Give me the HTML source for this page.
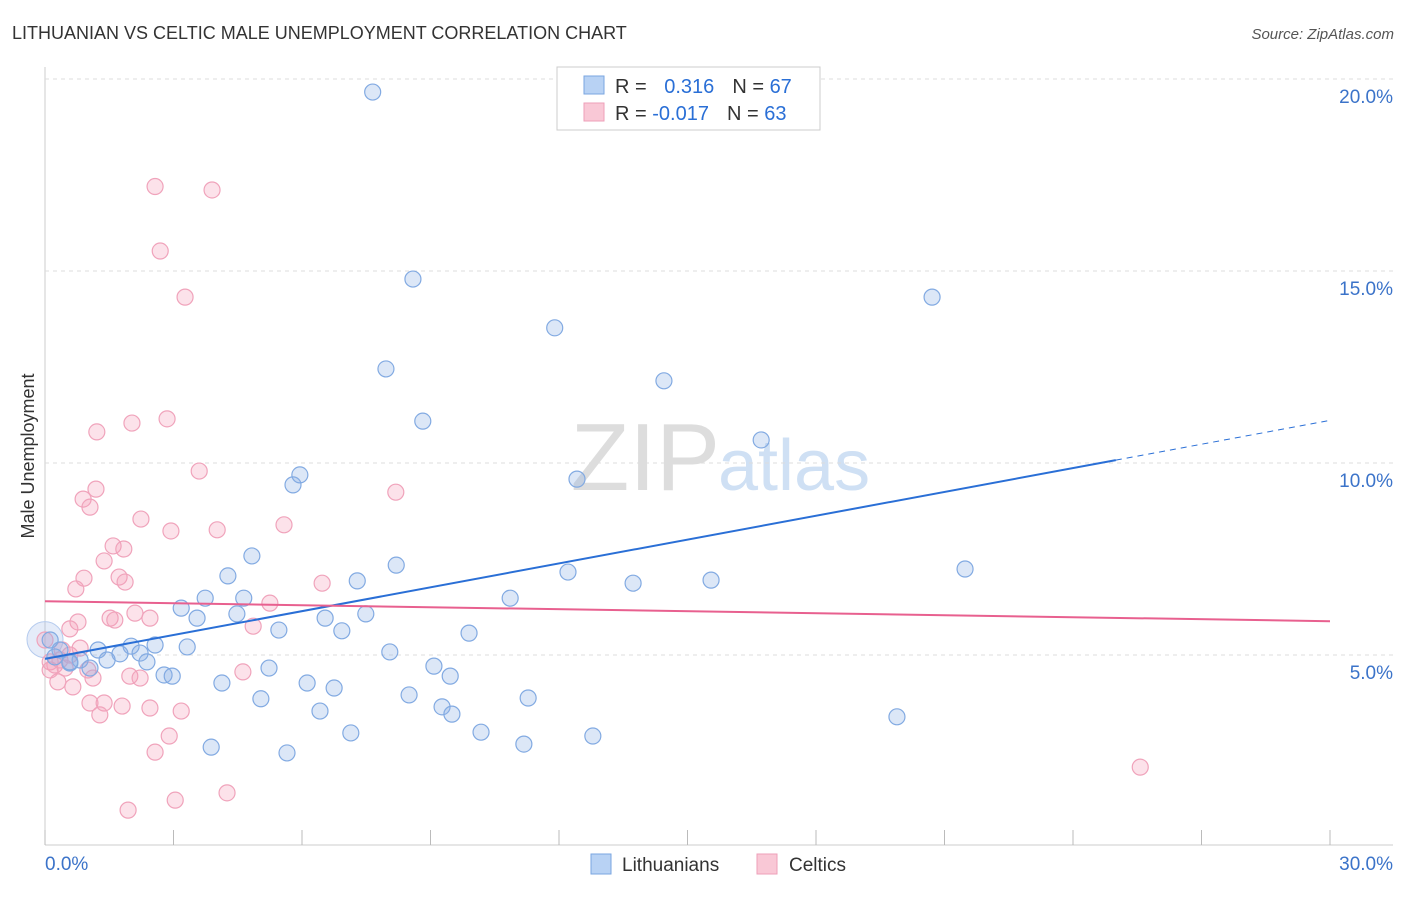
<!DOCTYPE html>
<html><head><meta charset="utf-8"><style>
body{margin:0;background:#fff;font-family:"Liberation Sans",sans-serif}
svg text{font-family:"Liberation Sans",sans-serif}
</style></head><body>
<svg id="c" width="1406" height="892" xmlns="http://www.w3.org/2000/svg">
<text x="12" y="39" font-size="18" fill="#333">LITHUANIAN VS CELTIC MALE UNEMPLOYMENT CORRELATION CHART</text>
<text x="1394" y="39" font-size="15" fill="#555" font-style="italic" text-anchor="end">Source: ZipAtlas.com</text>
<text x="720" y="490" font-size="96" fill="#ddd" text-anchor="end" font-family="Liberation Serif">ZIP</text>
<text x="718" y="490" font-size="72" fill="#cfe0f4">atlas</text>
<text x="34" y="456" font-size="18" fill="#333" transform="rotate(-90 34 456)" text-anchor="middle">Male Unemployment</text>
<g id="grid"></g><g id="pts"></g><g id="lines"></g>
<g>
<rect x="557" y="67" width="263" height="63" fill="#fff" stroke="#ccc"/>
<rect x="584" y="76" width="20" height="18" fill="#b8d2f4" stroke="#7aa6e0"/>
<rect x="584" y="103" width="20" height="18" fill="#f9c8d6" stroke="#ee9fb8"/>
<text x="615" y="93" font-size="20" fill="#333">R = <tspan fill="#2a6fd6" dx="12">0.316</tspan><tspan fill="#333" dx="18">N = </tspan><tspan fill="#2a6fd6">67</tspan></text>
<text x="615" y="120" font-size="20" fill="#333">R = <tspan fill="#2a6fd6">-0.017</tspan><tspan fill="#333" dx="18">N = </tspan><tspan fill="#2a6fd6">63</tspan></text>
</g>
<g>
<rect x="591" y="854" width="20" height="20" fill="#b8d2f4" stroke="#7aa6e0"/>
<text x="622" y="871" font-size="19" fill="#333">Lithuanians</text>
<rect x="757" y="854" width="20" height="20" fill="#f9c8d6" stroke="#ee9fb8"/>
<text x="789" y="871" font-size="19" fill="#333">Celtics</text>
</g>
</svg>
<script>
const yTicks=[5,10,15,20];
const xTickLabels=["0.0%","30.0%"];
const blueX=[7.65,8.59,11.9,7.96,14.45,20.71,8.82,16.72,12.42,5.79,5.95,4.83,4.27,7.29,8.2,12.21,13.73,15.55,21.48,4.64,3.74,3.18,3.55,4.48,6.54,7.49,10.86,5.46,6.93,9.9,2.57,2.01,3.32,1.24,1.75,2.22,2.38,1.45,0.82,0.58,1.05,0.35,0.12,8.05,9.08,9.46,5.23,2.78,2.97,4.13,6.12,6.75,5.04,8.5,11.28,9.27,9.5,6.42,7.14,10.18,11.18,12.79,3.88,5.65,19.89,0.58,0.23];
const blueY=[19.66,14.79,13.52,12.45,12.14,14.32,11.09,10.6,9.58,9.43,9.69,7.58,7.06,6.93,7.34,7.16,6.87,6.95,7.24,6.48,6.48,6.22,5.96,6.07,5.96,6.07,6.48,5.65,5.63,5.57,5.26,5.23,5.21,5.13,5.03,5.05,4.82,4.87,4.87,4.79,4.66,5.13,5.39,5.08,4.71,4.45,4.66,4.48,4.45,4.27,4.27,4.14,3.86,3.96,3.88,3.65,3.46,3.54,2.97,2.99,2.68,2.89,2.6,2.45,3.39,4.82,4.95];
const pinkX=[2.57,3.9,2.69,3.27,1.21,2.03,2.85,3.6,1.19,0.89,1.05,8.19,2.24,5.58,4.02,2.94,1.59,1.84,1.38,1.73,6.47,0.91,1.87,0.72,5.25,2.1,1.52,2.45,1.63,0.77,0.58,4.86,0.4,0.82,0.12,0.23,0.47,1.0,4.62,1.12,1.98,2.22,0.30,0.65,1.05,1.38,1.8,2.45,3.18,1.28,2.9,2.57,1.94,3.04,4.25,25.57,0.12,0.35,0,0.58];
const pinkY=[17.2,17.11,15.52,14.32,10.81,11.04,11.15,9.79,9.32,9.06,8.85,9.24,8.54,8.39,8.26,8.23,7.84,7.76,7.45,7.03,6.87,7.0,6.9,6.72,6.35,6.09,5.96,5.96,5.91,5.86,5.68,5.75,5.13,5.18,4.82,4.74,4.66,4.61,4.56,4.4,4.45,4.4,4.3,4.17,3.75,3.75,3.67,3.62,3.54,3.44,2.89,2.47,0.96,1.22,1.41,2.08,4.61,4.87,5.39,5.0];
const X0=45,X1=1330,Y0=847,YS=38.4;
const sx=v=>X0+(X1-X0)*v/30, sy=v=>Y0-v*YS;
const NS="http://www.w3.org/2000/svg";
function mk(t,a,p){const e=document.createElementNS(NS,t);for(const k in a)e.setAttribute(k,a[k]);p.appendChild(e);return e;}
const g=document.getElementById('grid');
const ax=mk('line',{x1:45,x2:45,y1:67,y2:845,stroke:'#ccc'},g);


const bx=mk('line',{x1:45,x2:1393,y1:845,y2:845,stroke:'#ccc'},g);


for(let i=0;i<=10;i++){const t=mk('line',{x1:sx(i*3),x2:sx(i*3),y1:830,y2:845,stroke:'#bbb'},g);

}
yTicks.forEach(v=>{const l=mk('line',{x1:45,x2:1393,y1:sy(v),y2:sy(v),stroke:'#ddd','stroke-dasharray':'4,4'},g);


const t=mk('text',{x:1393,y:sy(v)+24,'font-size':19,fill:'#3b73c9','text-anchor':'end'},g);t.textContent=v.toFixed(1)+'%';

});
[[45,'start'],[1393,'end']].forEach((p,i)=>{const t=mk('text',{x:p[0],y:870,'font-size':19,fill:'#3b73c9','text-anchor':p[1]},g);t.textContent=xTickLabels[i];

});
const P=document.getElementById('pts');
const big=mk('circle',{cx:sx(0),cy:sy(5.4),r:18,fill:'rgba(150,180,230,0.25)',stroke:'#b5cbee'},P);


pinkX.forEach((x,i)=>{const c=mk('circle',{cx:sx(x),cy:sy(pinkY[i]),r:8,fill:'rgba(245,160,185,0.3)',stroke:'#f0a3bb','stroke-width':1.2},P);

});
blueX.forEach((x,i)=>{const c=mk('circle',{cx:sx(x),cy:sy(blueY[i]),r:8,fill:'rgba(140,175,230,0.3)',stroke:'#82aae2','stroke-width':1.2},P);

});
const L=document.getElementById('lines');
const bf=v=>4.9+0.207*v;
const b1=mk('line',{x1:sx(0),y1:sy(bf(0)),x2:sx(25),y2:sy(bf(25)),stroke:'#2a6fd6','stroke-width':2},L);


const b2=mk('line',{x1:sx(25),y1:sy(bf(25)),x2:sx(30),y2:sy(bf(30)),stroke:'#2a6fd6','stroke-width':1,'stroke-dasharray':'6,5'},L);


const pl=mk('line',{x1:sx(0),y1:sy(6.4),x2:sx(30),y2:sy(5.88),stroke:'#e8608f','stroke-width':2},L);


</script>
</body></html>
